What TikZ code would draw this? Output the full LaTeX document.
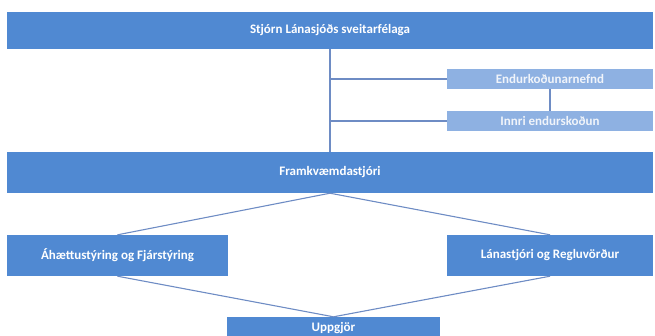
\documentclass[tikz,border=0pt]{standalone}
\usepackage{fontspec}
\setmainfont{Carlito}
\usepackage{tikz}

\begin{document}
\begin{tikzpicture}[x=1pt,y=1pt,yscale=-1,xscale=1,
		boxmain/.style={draw=none,fill={rgb,255:red,80;green,137;blue,210},text=white,font=\fontsize{13}{15}\selectfont\bfseries,inner sep=0pt},
		boxlight/.style={draw=none,fill={rgb,255:red,142;green,177;blue,226},text={rgb,255:red,240;green,244;blue,250},font=\fontsize{13}{15}\selectfont\bfseries,inner sep=0pt},
		link/.style={draw={rgb,255:red,110;green,140;blue,196},line width=1.1pt}]
		%set diagram size 655 x 335
		\useasboundingbox (0,0) rectangle (655,335);
		
		% Text Node
		\node [boxmain,minimum width=646,minimum height=37] (stjorn) at (330,30.5) {Stjórn Lánasjóðs sveitarfélaga};
		% Text Node
		\node [boxlight,minimum width=206,minimum height=20] (endurk) at (550,79) {Endurkoðunarnefnd};
		% Text Node
		\node [boxlight,minimum width=206,minimum height=20] (innri) at (550,121) {Innri endurskoðun};
		% Text Node
		\node [boxmain,minimum width=646,minimum height=41] (framkv) at (330,172.5) {Framkvæmdastjóri};
		% Text Node
		\node [boxmain,minimum width=221,minimum height=41] (ahaettu) at (117.5,255.5) {Áhættustýring og Fjárstýring};
		% Text Node
		\node [boxmain,minimum width=206,minimum height=41] (lanastj) at (550,255.5) {Lánastjóri og Regluvörður};
		% Text Node
		\node [boxmain,minimum width=213,minimum height=22] (uppgjor) at (333.5,328) {Uppgjör};
		
		%Straight Lines
		\draw [link] (stjorn.south) -- (framkv.north);
		\draw [link] (stjorn.south |- endurk.west) -- (endurk.west);
		\draw [link] (stjorn.south |- innri.west) -- (innri.west);
		\draw [link] (endurk.south) -- (innri.north);
		%Straight Lines
		\draw [link] (framkv.south) -- (ahaettu.north);
		\draw [link] (framkv.south) -- (lanastj.north);
		\draw [link] (ahaettu.south) -- (uppgjor.north);
		\draw [link] (lanastj.south) -- (uppgjor.north);
\end{tikzpicture}
\end{document}
